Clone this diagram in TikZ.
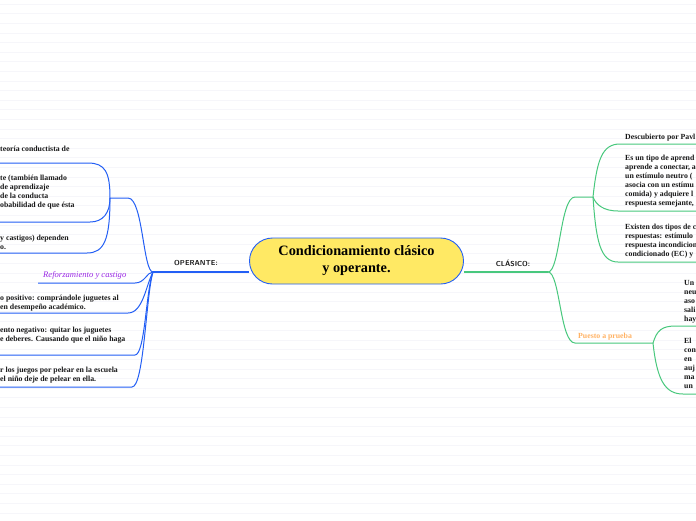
\documentclass[tikz,border=0pt]{standalone}
\usepackage{fontspec}
\setmainfont{Liberation Serif}
\usetikzlibrary{backgrounds}
\definecolor{bl}{RGB}{35,95,245}
\definecolor{gr}{RGB}{72,200,125}
\definecolor{yel}{RGB}{255,233,100}
\definecolor{pur}{RGB}{155,40,230}
\definecolor{ora}{RGB}{255,178,100}
\definecolor{rulec}{RGB}{246,246,250}
\begin{document}
\begin{tikzpicture}[x=1pt,y=-1pt,
  txt/.style={anchor=base west, inner sep=0pt, font=\fontsize{7.8}{9}\selectfont\bfseries, align=left, text=black!90},
  lab/.style={inner sep=0pt, font=\fontsize{7.2}{8}\sffamily\bfseries, text=black!90},
  bline/.style={draw=bl, line width=1pt},
  gline/.style={draw=gr, line width=1pt}]
\useasboundingbox (0,0) rectangle (696,520);
% central topic
\node (c) [draw=bl, line width=0.9pt, fill=yel, rounded corners=23pt, minimum width=214pt, minimum height=46pt, align=center, inner sep=0pt, font=\fontsize{14.3}{17}\selectfont\bfseries] at (356.5,261) {Condicionamiento clásico\\y operante.};
% main labels
\node (op) [lab] at (196,263) {OPERANTE:};
\node (cl) [lab] at (513,263) {CLÁSICO:};
% hubs and forks
\coordinate (Lh) at (153,272);
\coordinate (Rh) at (548,272);
\coordinate (Lf) at (110,198);
\coordinate (Rf) at (593,197);
\coordinate (Rf2) at (653,343);
% left texts (anchor = baseline of last line)
\node (la) [txt] at (0,151) {teoría conductista de};
\node (lb) [txt] at (0,207.5) {te (también llamado\\de aprendizaje\\de la conducta\\obabilidad de que ésta};
\node (lc) [txt] at (0,249.5) {y castigos) dependen\\o.};
\node (rf) [anchor=base west, inner sep=0pt, font=\fontsize{8.6}{9}\selectfont\itshape, text=pur] at (43,277) {Reforzamiento y castigo};
\node (le) [txt] at (0,309.5) {o positivo: comprándole juguetes al\\en desempeño académico.};
\node (lf) [txt] at (0,341.5) {ento negativo: quitar los juguetes\\e deberes. Causando que el niño haga};
\node (lg) [txt] at (0,381.5) {r los juegos por pelear en la escuela\\el niño deje de pelear en ella.};
% right texts
\node (ra) [txt] at (625,139) {Descubierto por Pavl};
\node (rb) [txt] at (625,205.5) {Es un tipo de aprend\\aprende a conectar, a\\un estímulo neutro (\\asocia con un estímu\\comida) y adquiere l\\respuesta semejante,};
\node (rc) [txt] at (625,256.5) {Existen dos tipos de c\\respuestas: estímulo\\respuesta incondicion\\condicionado (EC) y};
\node (pp) [anchor=base west, inner sep=0pt, font=\fontsize{7.8}{9}\selectfont\bfseries, text=ora] at (578,338) {Puesto a prueba};
\node (rd) [txt] at (684,321.5) {Un\\neu\\aso\\sali\\hay};
\node (re) [txt] at (684,388.5) {El\\con\\en\\auj\\ma\\un};
% free ends
\coordinate (ea) at (0,163);
\coordinate (eb) at (0,222);
\coordinate (ec) at (0,253);
\coordinate (ed) at (38,283);
\coordinate (ee) at (0,313);
\coordinate (ef) at (0,355);
\coordinate (eg) at (0,387);
\coordinate (xa) at (696,144);
\coordinate (xb) at (696,211);
\coordinate (xc) at (696,262);
\coordinate (xd) at (696,326);
\coordinate (xe) at (696,394);
\begin{scope}[on background layer]
  \fill[white] (0,0) rectangle (696,520);
  \foreach \k in {0,...,54} \draw[rulec, line width=0.5pt] (0,4+9.6*\k) -- (696,4+9.6*\k);
  % left
  \draw[bline, line width=1.4pt] (c.west |- Lh) -- (Lh);
  \draw[bline] (Lh) .. controls (143,272) and (143,198) .. (128,198) -- (Lf);
  \draw[bline] (Lf) .. controls (110,172) and (105,163) .. (88,163) -- (ea);
  \draw[bline] (Lf) .. controls (110,213) and (103,222) .. (90,222) -- (eb);
  \draw[bline] (Lf) .. controls (110,240) and (104,253) .. (87,253) -- (ec);
  \draw[bline] (Lh) .. controls (147,272) and (145,283) .. (135,283) -- (ed);
  \draw[bline] (Lh) .. controls (146,285) and (143,313) .. (128,313) -- (ee);
  \draw[bline] (Lh) .. controls (146,290) and (145,355) .. (135,355) -- (ef);
  \draw[bline] (Lh) .. controls (146,295) and (144,387) .. (132,387) -- (eg);
  % right
  \draw[gline, line width=1.4pt] (c.east |- Rh) -- (Rh);
  \draw[gline] (Rh) .. controls (560,272) and (560,197) .. (575,197) -- (Rf);
  \draw[gline] (Rf) .. controls (597,160) and (602,144) .. (620,144) -- (xa);
  \draw[gline] (Rf) .. controls (596,205) and (604,211) .. (618,211) -- (xb);
  \draw[gline] (Rf) .. controls (596,240) and (600,262) .. (618,262) -- (xc);
  \draw[gline] (Rh) .. controls (560,272) and (560,343) .. (575,343) -- (Rf2);
  \draw[gline] (Rf2) .. controls (657,330) and (662,326) .. (676,326) -- (xd);
  \draw[gline] (Rf2) .. controls (657,380) and (665,394) .. (683,394) -- (xe);
\end{scope}
\end{tikzpicture}
\end{document}
